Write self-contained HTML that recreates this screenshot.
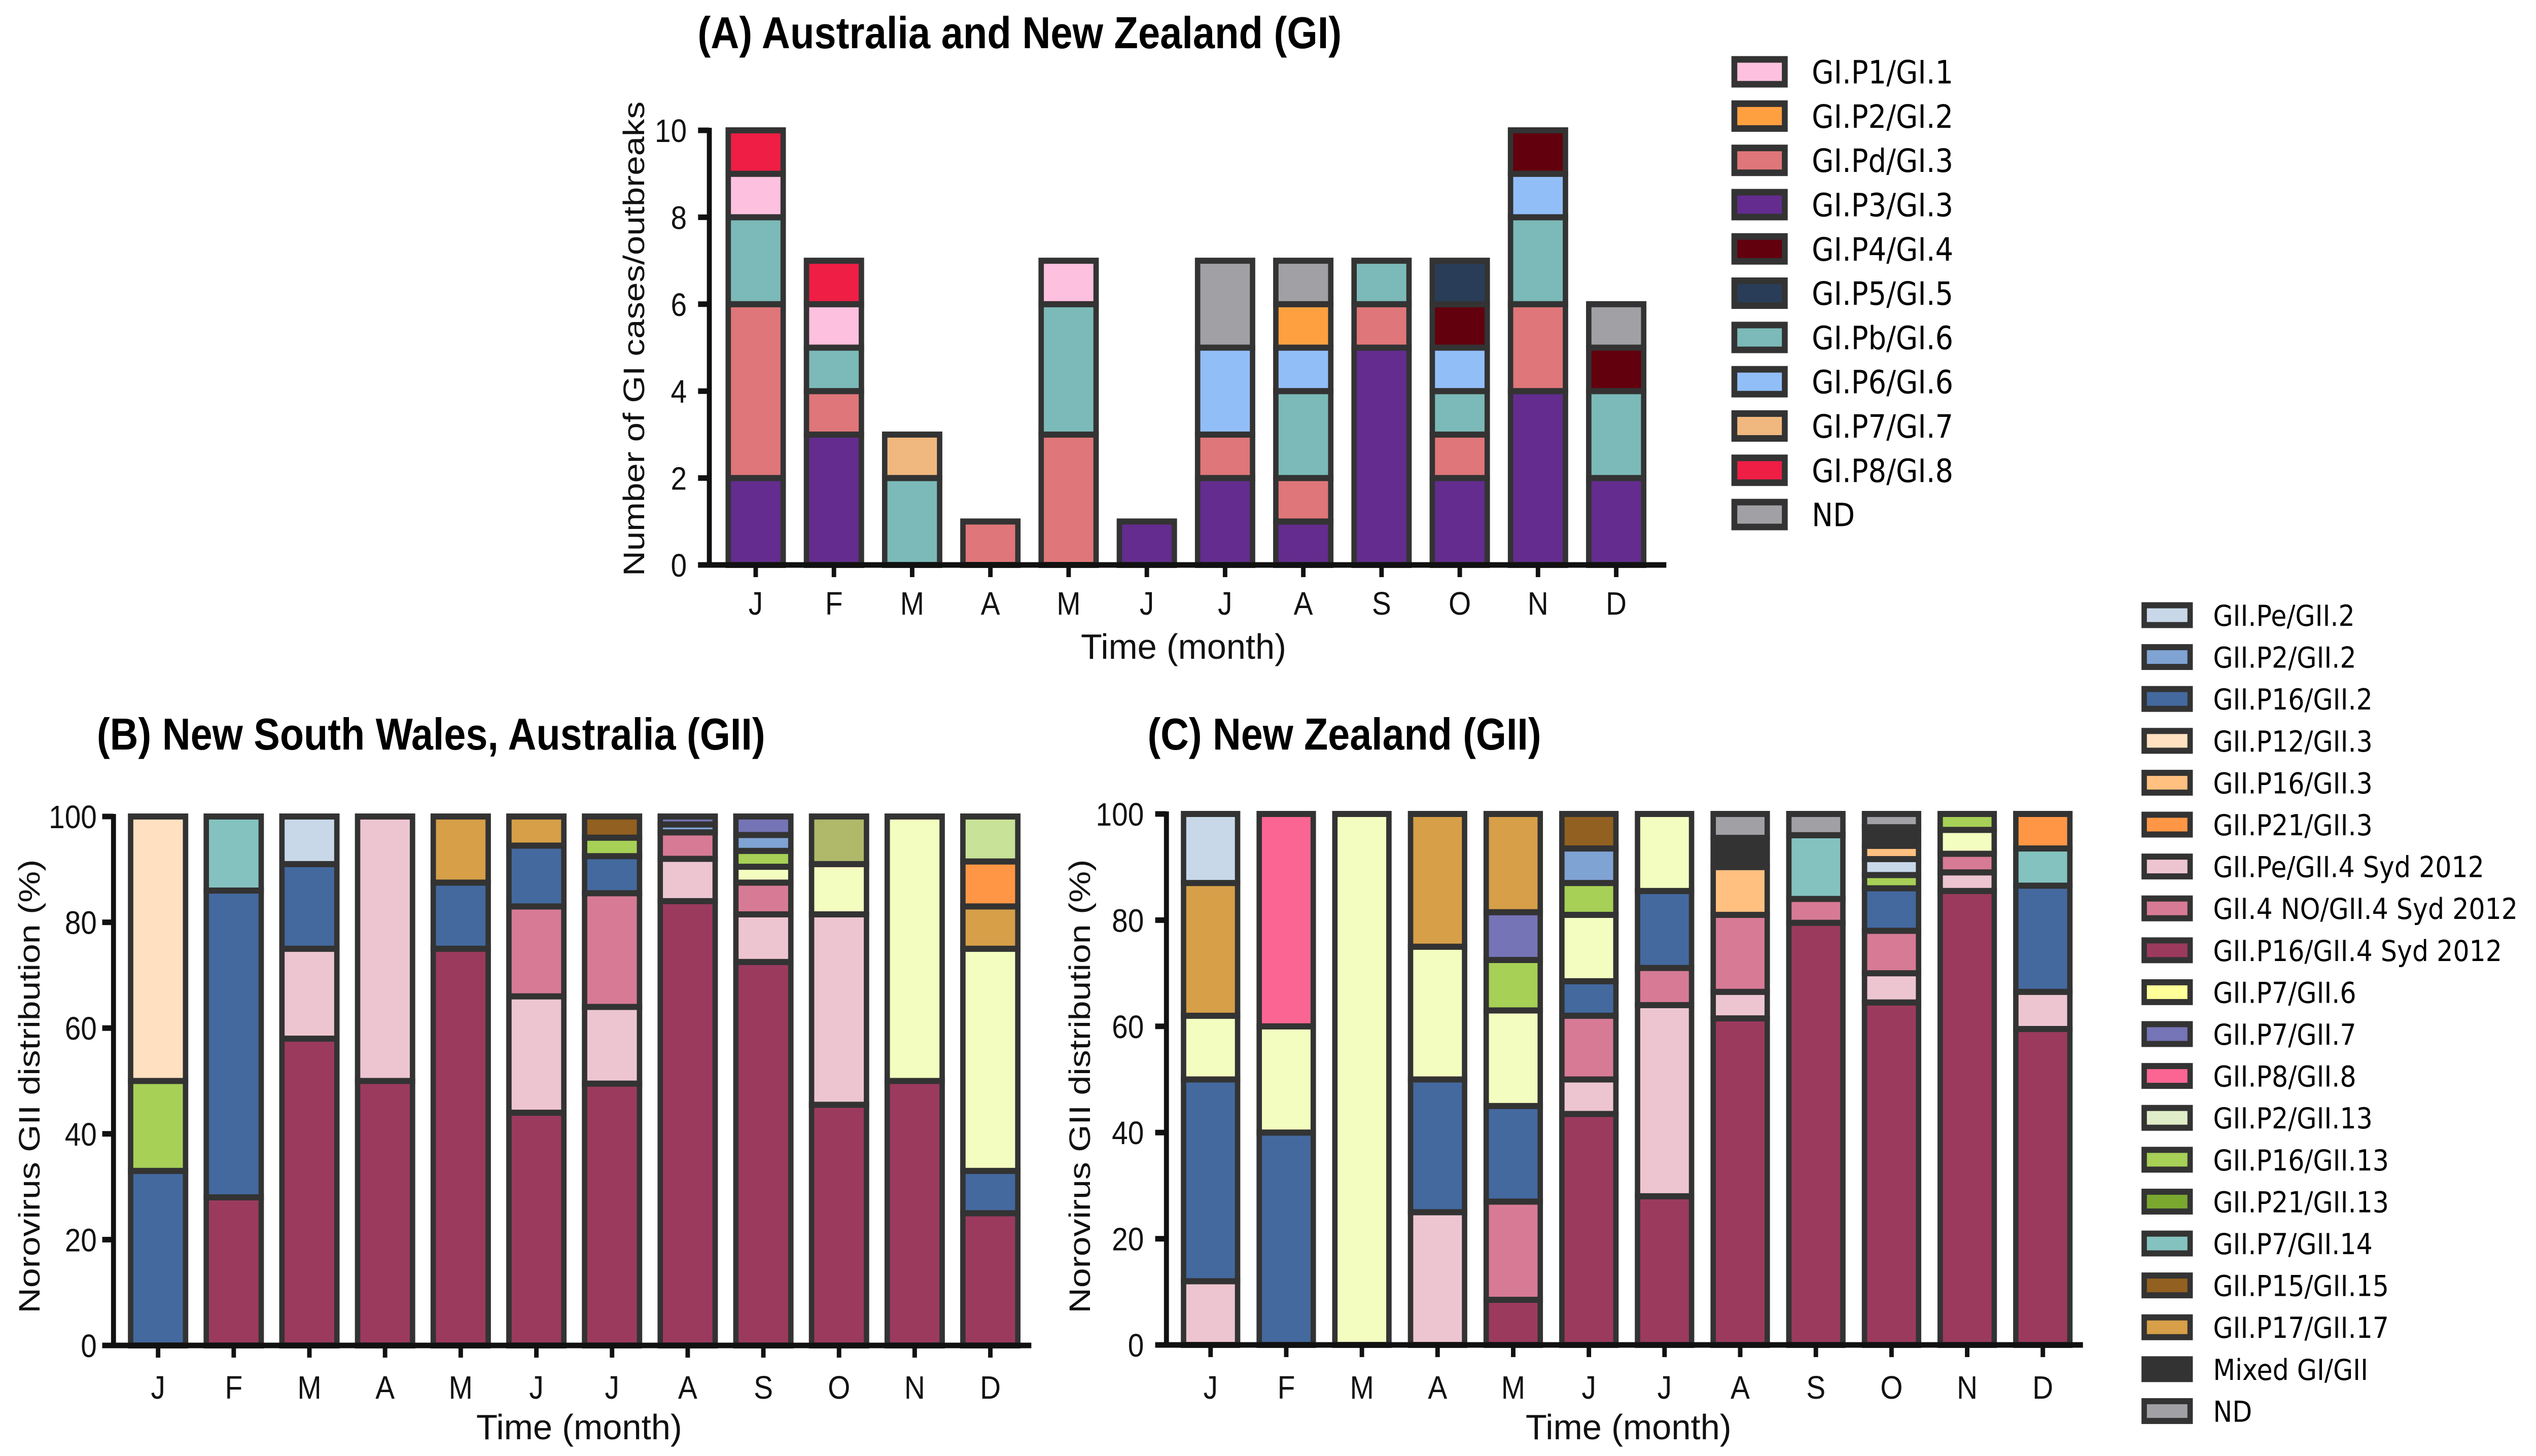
<!DOCTYPE html>
<html><head><meta charset="utf-8"><style>html,body{margin:0;padding:0;background:#fff;overflow:hidden;width:100%;height:100%}svg{display:block;width:100vw;height:100vh}</style></head>
<body>
<svg id="fig" xmlns="http://www.w3.org/2000/svg" viewBox="0 0 5631 2871" preserveAspectRatio="none">
<rect width="5631" height="2871" fill="#fff"/>
</svg>
<script>
const months = ["J","F","M","A","M","J","J","A","S","O","N","D"];
// ---- Panel A (GI) ----
const giKeys = ["GI.P3/GI.3","GI.Pd/GI.3","GI.Pb/GI.6","GI.P6/GI.6","GI.P2/GI.2","GI.P4/GI.4","GI.P5/GI.5","GI.P1/GI.1","GI.P8/GI.8","GI.P7/GI.7","ND"];
const giP3 = [2,3,0,0,0,1,2,1,5,2,4,2];
const giPd = [4,1,0,1,3,0,1,1,1,1,2,0];
const giPb = [2,1,2,0,3,0,0,2,1,1,2,2];
const giP6 = [0,0,0,0,0,0,2,1,0,1,1,0];
const giP2 = [0,0,0,0,0,0,0,1,0,0,0,0];
const giP4 = [0,0,0,0,0,0,0,0,0,1,1,1];
const giP5 = [0,0,0,0,0,0,0,0,0,1,0,0];
const giP1 = [1,1,0,0,1,0,0,0,0,0,0,0];
const giP8 = [1,1,0,0,0,0,0,0,0,0,0,0];
const giP7 = [0,0,1,0,0,0,0,0,0,0,0,0];
const giND = [0,0,0,0,0,0,2,1,0,0,0,1];
const giTicks = [0,2,4,6,8,10];
// ---- Panel B (NSW GII, %) ----
const gii_keys = ["GII.P16/GII.4 Syd 2012","GII.Pe/GII.4 Syd 2012","GII.4 NO/GII.4 Syd 2012","GII.P16/GII.2","GII.P7/GII.6","GII.P16/GII.13","GII.P2/GII.2","GII.P7/GII.7","GII.P15/GII.15","GII.P17/GII.17","GII.P8/GII.8","GII.Pe/GII.2","GII.P16/GII.3","GII.P7/GII.14","GII.P21/GII.3","GII.P2/GII.13","GII.P12/GII.3","GII.P21/GII.13","Mixed GI/GII","ND"];
const nswP16g4 = [0,28,58,50,75,44,49.5,84,72.5,45.5,50,25];
const nswPeg4  = [0,0,17,50,0,22,14.5,8,9,36,0,0];
const nswNO    = [0,0,0,0,0,17,21.5,5,6,0,0,0];
const nswP16g2 = [33,58,16,0,12.5,11.5,7,0,0,0,0,8];
const nswP7g6  = [0,0,0,0,0,0,0,0,3,9.5,50,42];
const nswP16g13= [17,0,0,0,0,0,3.5,0,3,0,0,0];
const nswP2g2  = [0,0,0,0,0,0,0,1.5,3,0,0,0];
const nswP7g7  = [0,0,0,0,0,0,0,1.5,3.5,0,0,0];
const nswP15   = [0,0,0,0,0,0,4,0,0,0,0,0];
const nswP17   = [0,0,0,0,12.5,5.5,0,0,0,0,0,8];
const nswP8    = [0,0,0,0,0,0,0,0,0,0,0,0];
const nswPeg2  = [0,0,9,0,0,0,0,0,0,0,0,0];
const nswP16g3 = [0,0,0,0,0,0,0,0,0,0,0,0];
const nswP7g14 = [0,14,0,0,0,0,0,0,0,0,0,0];
const nswP21g3 = [0,0,0,0,0,0,0,0,0,0,0,8.5];
const nswP2g13 = [0,0,0,0,0,0,0,0,0,0,0,8.5];
const nswP12g3 = [50,0,0,0,0,0,0,0,0,0,0,0];
const nswP21g13= [0,0,0,0,0,0,0,0,0,9,0,0];
const nswMixed = [0,0,0,0,0,0,0,0,0,0,0,0];
const nswND    = [0,0,0,0,0,0,0,0,0,0,0,0];
// ---- Panel C (NZ GII, %) ----
const nzP16g4 = [0,0,0,0,8.5,43.5,28,61.5,79.5,64.5,85.5,59.5];
const nzPeg4  = [12,0,0,25,0,6.5,36,5,0,5.5,3.5,7];
const nzNO    = [0,0,0,0,18.5,12,7,14.5,4.5,8,3.5,0];
const nzP16g2 = [38,40,0,25,18,6.5,14.5,0,0,8,0,20];
const nzP7g6  = [12,20,100,25,18,12.5,14.5,0,0,0,4.5,0];
const nzP16g13= [0,0,0,0,9.5,6,0,0,0,2.5,3,0];
const nzP2g2  = [0,0,0,0,0,6.5,0,0,0,0,0,0];
const nzP7g7  = [0,0,0,0,9,0,0,0,0,0,0,0];
const nzP15   = [0,0,0,0,0,6.5,0,0,0,0,0,0];
const nzP17   = [25,0,0,25,18.5,0,0,0,0,0,0,0];
const nzP8    = [0,40,0,0,0,0,0,0,0,0,0,0];
const nzPeg2  = [13,0,0,0,0,0,0,0,0,3,0,0];
const nzP16g3 = [0,0,0,0,0,0,0,9,0,2.5,0,0];
const nzP7g14 = [0,0,0,0,0,0,0,0,12,0,0,7];
const nzP21g3 = [0,0,0,0,0,0,0,0,0,0,0,6.5];
const nzP2g13 = [0,0,0,0,0,0,0,0,0,0,0,0];
const nzP12g3 = [0,0,0,0,0,0,0,0,0,0,0,0];
const nzP21g13= [0,0,0,0,0,0,0,0,0,0,0,0];
const nzMixed = [0,0,0,0,0,0,0,5.5,0,3.5,0,0];
const nzND    = [0,0,0,0,0,0,0,4.5,4,2.5,0,0];
const pctTicks = [0,20,40,60,80,100];

const giColors = {"GI.P1/GI.1":"#fdc0de","GI.P2/GI.2":"#ffa040","GI.Pd/GI.3":"#df7679","GI.P3/GI.3":"#632c8e","GI.P4/GI.4":"#62000d","GI.P5/GI.5":"#2a3d58","GI.Pb/GI.6":"#7bbab8","GI.P6/GI.6":"#92bef8","GI.P7/GI.7":"#f0b87e","GI.P8/GI.8":"#ee1e45","ND":"#a1a0a5"};
const giiColors = {"GII.Pe/GII.2":"#c8d8e8","GII.P2/GII.2":"#7fa3d3","GII.P16/GII.2":"#43699f","GII.P12/GII.3":"#ffe0c0","GII.P16/GII.3":"#ffc080","GII.P21/GII.3":"#ff9645","GII.Pe/GII.4 Syd 2012":"#edc5d0","GII.4 NO/GII.4 Syd 2012":"#d77a96","GII.P16/GII.4 Syd 2012":"#9c3a5e","GII.P7/GII.6":"#f4fdc0","GII.P7/GII.7":"#7574b6","GII.P8/GII.8":"#fb6593","GII.P2/GII.13":"#c8e298","GII.P16/GII.13":"#a6d056","GII.P21/GII.13":"#b0b86a","GII.P7/GII.14":"#84c2bf","GII.P15/GII.15":"#926020","GII.P17/GII.17":"#d69f48","Mixed GI/GII":"#333333","ND":"#a1a0a5"};
const giiLegendColors = Object.assign({}, giiColors, {"GII.P7/GII.6":"#ffff99","GII.P2/GII.13":"#dfeec8","GII.P21/GII.13":"#7aa82f"});
const giLegendOrder = ["GI.P1/GI.1","GI.P2/GI.2","GI.Pd/GI.3","GI.P3/GI.3","GI.P4/GI.4","GI.P5/GI.5","GI.Pb/GI.6","GI.P6/GI.6","GI.P7/GI.7","GI.P8/GI.8","ND"];
const giiLegendOrder = ["GII.Pe/GII.2","GII.P2/GII.2","GII.P16/GII.2","GII.P12/GII.3","GII.P16/GII.3","GII.P21/GII.3","GII.Pe/GII.4 Syd 2012","GII.4 NO/GII.4 Syd 2012","GII.P16/GII.4 Syd 2012","GII.P7/GII.6","GII.P7/GII.7","GII.P8/GII.8","GII.P2/GII.13","GII.P16/GII.13","GII.P21/GII.13","GII.P7/GII.14","GII.P15/GII.15","GII.P17/GII.17","Mixed GI/GII","ND"];

const NS = "http://www.w3.org/2000/svg";
const svg = document.getElementById("fig");
function mk(tag, attrs, parent){ const e=document.createElementNS(NS,tag); for(const k in attrs) e.setAttribute(k,attrs[k]); (parent||svg).appendChild(e); return e; }
const AX = '"Liberation Sans", sans-serif';
const LG = '"DejaVu Sans", "Liberation Sans", sans-serif';

function panel(p){
  const g = mk("g",{});
  
  
  const y = v => p.y0 - (v/p.max)*(p.y0-p.yTop);
  const x = i => p.x0c + i*p.slot;
  for(let i=0;i<12;i++){
    let acc=0;
    p.series.forEach((arr,k)=>{
      const v=arr[i]; if(!v) return;
      const r = mk("rect",{x:x(i)-p.bw/2, y:y(acc+v), width:p.bw, height:y(acc)-y(acc+v), fill:p.colors[p.keys[k]], stroke:"#333", "stroke-width":12}, g);
      
      
      acc+=v;
    });
  }
  const ya = mk("line",{x1:p.ax, y1:p.y0+5, x2:p.ax, y2:y(p.max)-5, stroke:"#111","stroke-width":11},g);
  
  
  const xa = mk("line",{x1:p.ax-25, y1:p.y0, x2:p.xEnd, y2:p.y0, stroke:"#111","stroke-width":11},g);
  
  
  p.ticks.forEach(t=>{
    mk("line",{x1:p.ax-25,y1:y(t),x2:p.ax,y2:y(t),stroke:"#111","stroke-width":11},g);
    const tl = mk("text",{x:p.tickRight, y:y(t)+23, "text-anchor":"end", "font-family":AX, "font-size":64, fill:"#111"},g);
    tl.textContent=String(t);
    
    
  });
  months.forEach((m,i)=>{
    mk("line",{x1:x(i),y1:p.y0,x2:x(i),y2:p.y0+24,stroke:"#111","stroke-width":10},g);
    const ml = mk("text",{x:x(i), y:p.monthBase, "text-anchor":"middle", "font-family":AX, "font-size":64, fill:"#111"},g);
    ml.textContent=m;
    
    
  });
  const yt = mk("text",{x:0,y:0,transform:`translate(${p.ytX},${p.ytY}) rotate(-90)`, "text-anchor":"middle","font-family":AX,"font-size":66,fill:"#111",textLength:p.ytLen,lengthAdjust:"spacingAndGlyphs"},g);
  yt.textContent=p.yTitle;
  
  
  const xt = mk("text",{x:p.xtX,y:p.xtY,"text-anchor":"middle","font-family":AX,"font-size":70,fill:"#111",textLength:p.xtLen,lengthAdjust:"spacingAndGlyphs"},g);
  xt.textContent="Time (month)";
  
  
  const tt = mk("text",{x:p.tX,y:p.tY,"font-family":AX,"font-weight":"bold","font-size":88,fill:"#000",textLength:p.tLen,lengthAdjust:"spacingAndGlyphs"},g);
  tt.textContent=p.title;
  
  
}

panel({name:"panel-a-gi", keys:giKeys, colors:giColors,
  series:[giP3,giPd,giPb,giP6,giP2,giP4,giP5,giP1,giP8,giP7,giND],
  max:10, ticks:giTicks, y0:1114, yTop:257, ax:1575, x0c:1678, slot:173.7, bw:122, xEnd:3700,
  tickRight:1525, monthBase:1212, ytX:1430, ytY:668, ytLen:936, yTitle:"Number of GI cases/outbreaks",
  xtX:2628, xtY:1299, xtLen:456, title:"(A) Australia and New Zealand (GI)", tX:1549, tY:95, tLen:1430});
panel({name:"panel-b-nsw-gii", keys:gii_keys, colors:giiColors,
  series:[nswP16g4,nswPeg4,nswNO,nswP16g2,nswP7g6,nswP16g13,nswP2g2,nswP7g7,nswP15,nswP17,nswP8,nswPeg2,nswP16g3,nswP7g14,nswP21g3,nswP2g13,nswP12g3,nswP21g13,nswMixed,nswND],
  max:100, ticks:pctTicks, y0:2653, yTop:1610, ax:252, x0c:351, slot:168, bw:122, xEnd:2290,
  tickRight:215, monthBase:2758, ytX:88, ytY:2142, ytLen:895, yTitle:"Norovirus GII distribution (%)",
  xtX:1286, xtY:2838, xtLen:457, title:"(B) New South Wales, Australia (GII)", tX:215, tY:1478, tLen:1484});
panel({name:"panel-c-nz-gii", keys:gii_keys, colors:giiColors,
  series:[nzP16g4,nzPeg4,nzNO,nzP16g2,nzP7g6,nzP16g13,nzP2g2,nzP7g7,nzP15,nzP17,nzP8,nzPeg2,nzP16g3,nzP7g14,nzP21g3,nzP2g13,nzP12g3,nzP21g13,nzMixed,nzND],
  max:100, ticks:pctTicks, y0:2652, yTop:1605, ax:2590, x0c:2688, slot:168, bw:120, xEnd:4625,
  tickRight:2540, monthBase:2758, ytX:2420, ytY:2142, ytLen:895, yTitle:"Norovirus GII distribution (%)",
  xtX:3616, xtY:2838, xtLen:457, title:"(C) New Zealand (GII)", tX:2548, tY:1478, tLen:874});

const lgA = mk("g",{});


giLegendOrder.forEach((k,i)=>{
  const cy = 141.6 + i*87.3;
  const r = mk("rect",{x:3851,y:cy-24.5,width:112,height:49,fill:giColors[k],stroke:"#333","stroke-width":13},lgA);
  
  
  const t = mk("text",{x:4023,y:cy+23,"font-family":LG,"font-size":63,fill:"#000"},lgA);
  t.textContent=k;
  
  
});
const lgB = mk("g",{});


giiLegendOrder.forEach((k,i)=>{
  const cy = 1213 + i*82.6;
  const r = mk("rect",{x:4761,y:cy-19.5,width:102,height:39,fill:giiLegendColors[k],stroke:"#333","stroke-width":12},lgB);
  
  
  const t = mk("text",{x:4914,y:cy+21,"font-family":LG,"font-size":57,fill:"#000"},lgB);
  t.textContent=k;
  
  
  const w = t.getComputedTextLength();
  if (w > 5605-4914) { t.setAttribute('textLength', 5605-4914); t.setAttribute('lengthAdjust','spacingAndGlyphs'); }
});
</script>
</body></html>
